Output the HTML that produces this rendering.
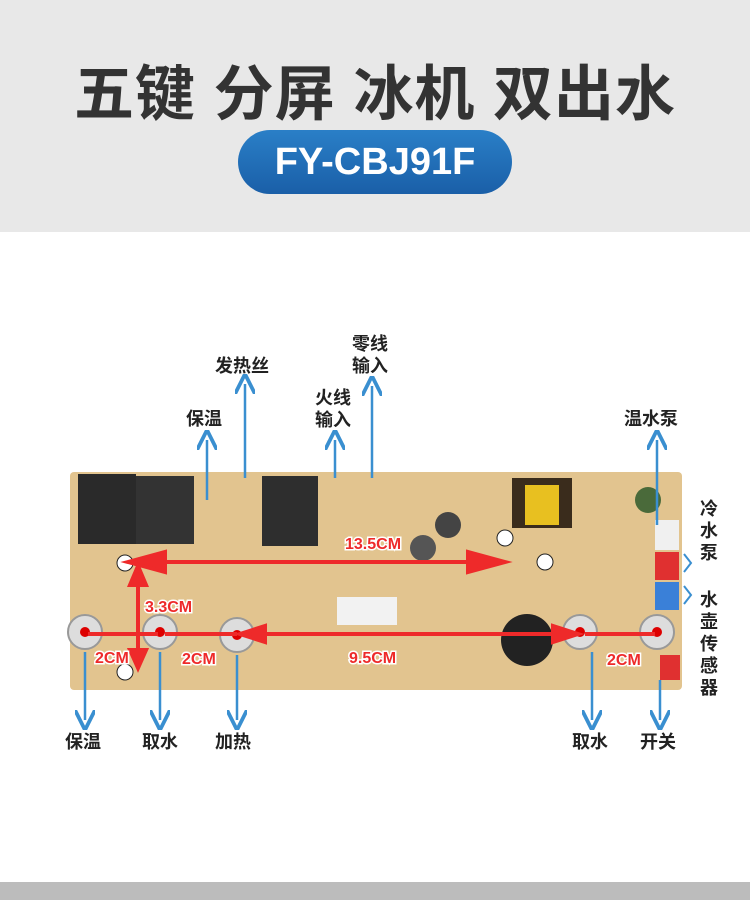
<!DOCTYPE html>
<html><head><meta charset="utf-8"><style>
body{margin:0;width:750px;height:900px;background:#fff;overflow:hidden;font-family:"Liberation Sans","Noto Sans CJK SC",sans-serif}
.hdr{position:absolute;left:0;top:0;width:750px;height:232px;background:#e8e8e8}
.t{position:absolute;left:0;width:750px;top:46px;text-align:center;font-size:60px;font-weight:bold;color:#333;letter-spacing:1px;white-space:nowrap}
.pill{position:absolute;left:238px;top:130px;width:274px;height:64px;border-radius:32px;background:linear-gradient(#2a7fc7,#1a5fa8);color:#fff;font-size:38px;font-weight:bold;text-align:center;line-height:64px}
.bot{position:absolute;left:0;top:882px;width:750px;height:18px;background:#bcbcbc}
</style></head><body>
<div class="hdr"></div>
<div class="t">五键 分屏 冰机 双出水</div>
<div class="pill">FY-CBJ91F</div>
<svg width="750" height="900" style="position:absolute;left:0;top:0">
<defs><marker id="b" markerWidth="8" markerHeight="8" refX="4" refY="4" orient="auto"><path d="M0,0 L8,4 L0,8" fill="none" stroke="#3a8fd0" stroke-width="1.5"/></marker></defs>
<rect x="70" y="472" width="612" height="218" rx="4" fill="#e2c48f"/>
<rect x="78" y="474" width="58" height="70" fill="#2a2a2a"/>
<rect x="136" y="476" width="58" height="68" fill="#333"/>
<rect x="262" y="476" width="56" height="70" fill="#2e2e2e"/>
<rect x="512" y="478" width="60" height="50" fill="#3a2c1c"/><rect x="525" y="485" width="34" height="40" fill="#e8c020"/>
<circle cx="448" cy="525" r="13" fill="#444"/><circle cx="423" cy="548" r="13" fill="#555"/><circle cx="648" cy="500" r="13" fill="#4a6a3a"/>
<rect x="655" y="520" width="24" height="30" fill="#f0f0f0"/><rect x="655" y="552" width="24" height="28" fill="#e03030"/><rect x="655" y="582" width="24" height="28" fill="#3a80d8"/><rect x="660" y="655" width="20" height="25" fill="#e03030"/>
<rect x="337" y="597" width="60" height="28" fill="#f2f2f2"/>
<circle cx="527" cy="640" r="26" fill="#222"/>
<g fill="#ddd" stroke="#999" stroke-width="2"><circle cx="85" cy="632" r="17"/><circle cx="160" cy="632" r="17"/><circle cx="237" cy="635" r="17"/><circle cx="580" cy="632" r="17"/><circle cx="657" cy="632" r="17"/></g>
<g fill="#d00"><circle cx="85" cy="632" r="5"/><circle cx="160" cy="632" r="5"/><circle cx="237" cy="635" r="5"/><circle cx="580" cy="632" r="5"/><circle cx="657" cy="632" r="5"/></g>
<g fill="#fff" stroke="#222"><circle cx="125" cy="563" r="8"/><circle cx="125" cy="672" r="8"/><circle cx="505" cy="538" r="8"/><circle cx="545" cy="562" r="8"/></g>
<g stroke="#ee2a2a" stroke-width="4" fill="#ee2a2a">
<line x1="132" y1="562" x2="505" y2="562"/><path d="M128,562 L165,552 L165,572Z"/><path d="M505,562 L468,552 L468,572Z"/>
<line x1="138" y1="570" x2="138" y2="665"/><path d="M138,566 L130,585 L146,585Z"/><path d="M138,668 L130,650 L146,650Z"/>
<line x1="88" y1="634" x2="158" y2="634"/><line x1="165" y1="634" x2="237" y2="634"/><line x1="240" y1="634" x2="578" y2="634"/><line x1="585" y1="634" x2="655" y2="634"/>
<path d="M240,634 L265,626 L265,642Z"/><path d="M578,634 L553,626 L553,642Z"/>
</g>
<g font-size="16" font-weight="bold" fill="#ee2a2a" stroke="#fff" stroke-width="3" paint-order="stroke" font-family="Liberation Sans,sans-serif">
<text x="345" y="549">13.5CM</text><text x="145" y="612">3.3CM</text><text x="95" y="663">2CM</text><text x="182" y="664">2CM</text><text x="349" y="663">9.5CM</text><text x="607" y="665">2CM</text>
</g>
<g stroke="#3a8fd0" stroke-width="2.5" marker-end="url(#b)">
<line x1="207" y1="500" x2="207" y2="440"/><line x1="245" y1="478" x2="245" y2="384"/><line x1="335" y1="478" x2="335" y2="440"/><line x1="372" y1="478" x2="372" y2="386"/><line x1="657" y1="525" x2="657" y2="440"/>
<line x1="85" y1="652" x2="85" y2="720"/><line x1="160" y1="652" x2="160" y2="720"/><line x1="237" y1="655" x2="237" y2="720"/><line x1="592" y1="652" x2="592" y2="720"/><line x1="660" y1="680" x2="660" y2="720"/>
</g>
<g fill="none" stroke="#3a8fd0" stroke-width="2"><path d="M684,554 L691,563 L684,572"/><path d="M684,586 L691,595 L684,604"/></g>
<g font-size="18" fill="#222" font-weight="bold" font-family="Liberation Sans,Noto Sans CJK SC,sans-serif">
<text x="186" y="425">保温</text><text x="215" y="372">发热丝</text><text x="315" y="404">火线</text><text x="315" y="426">输入</text><text x="352" y="350">零线</text><text x="352" y="372">输入</text><text x="624" y="425">温水泵</text>
<text x="700" y="515">冷</text><text x="700" y="537">水</text><text x="700" y="559">泵</text>
<text x="700" y="606">水</text><text x="700" y="628">壶</text><text x="700" y="650">传</text><text x="700" y="672">感</text><text x="700" y="694">器</text>
<text x="65" y="748">保温</text><text x="142" y="748">取水</text><text x="215" y="748">加热</text><text x="572" y="748">取水</text><text x="640" y="748">开关</text>
</g>
</svg>
<div class="bot"></div>
</body></html>
